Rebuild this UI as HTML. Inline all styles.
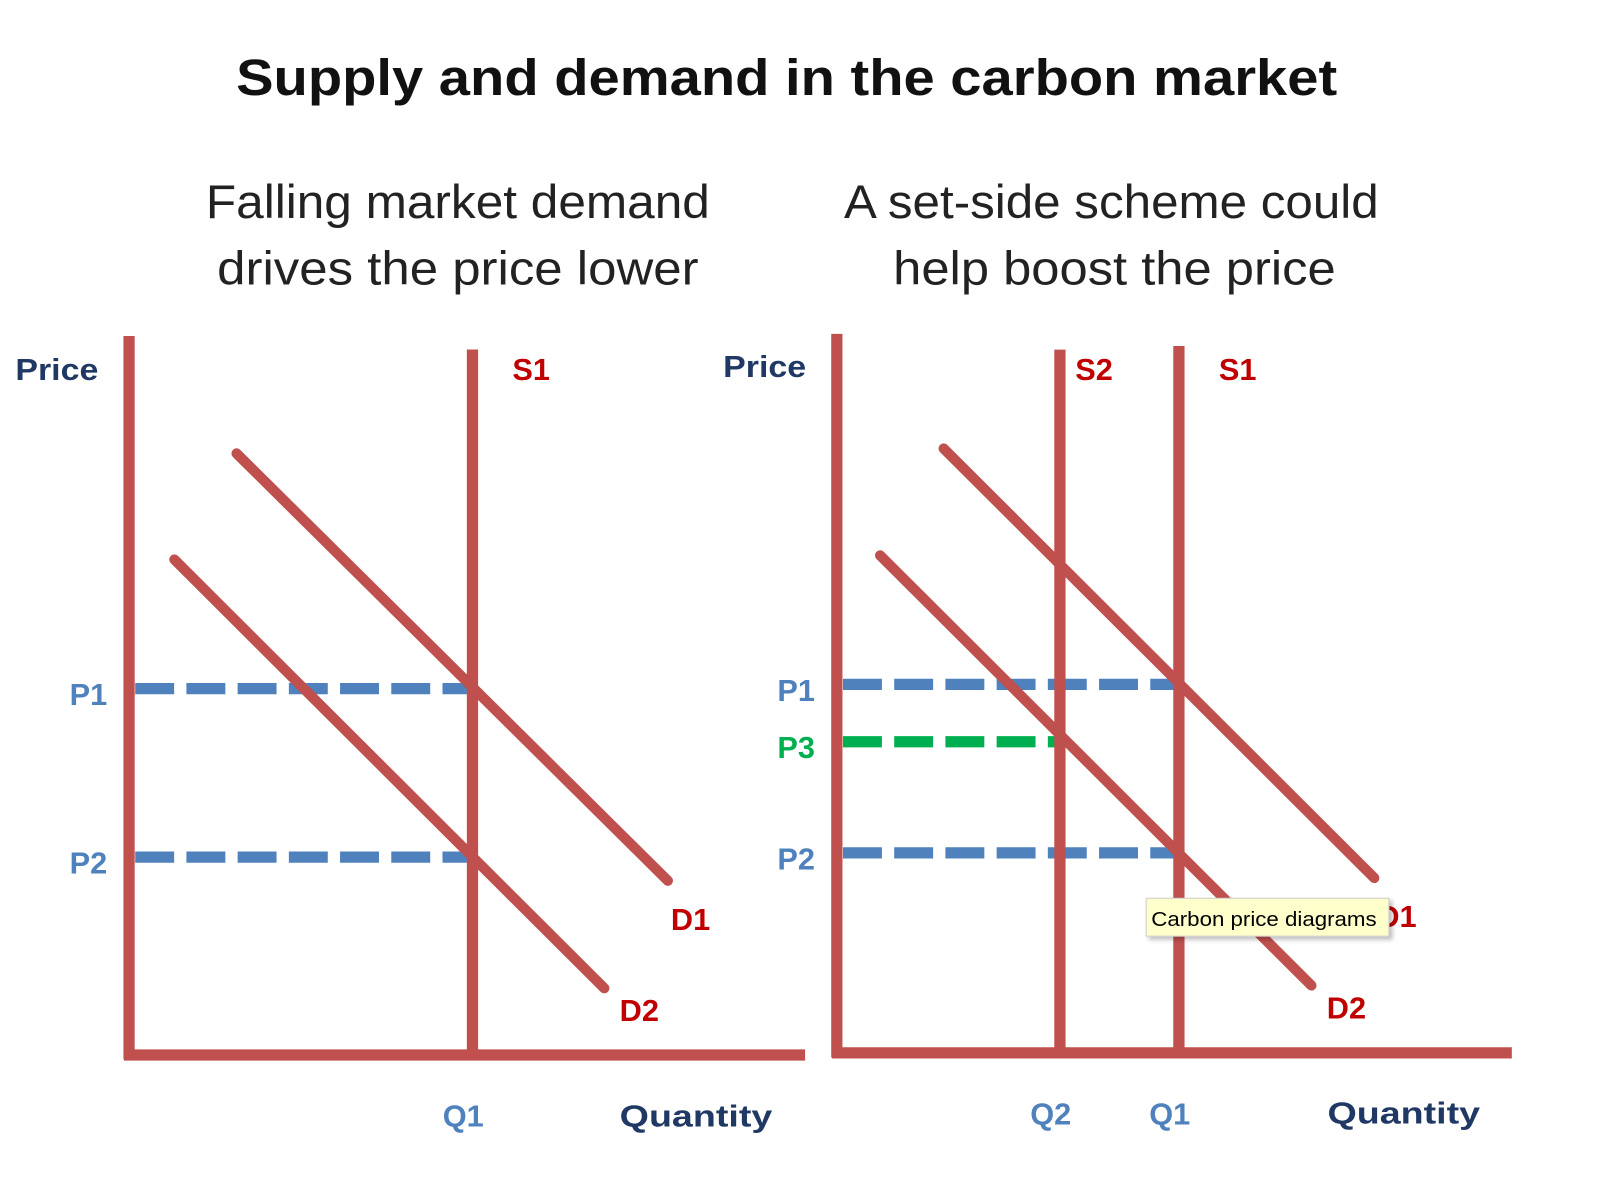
<!DOCTYPE html>
<html><head><meta charset="utf-8"><style>
html,body{margin:0;padding:0;background:#fff;width:1603px;height:1183px;overflow:hidden}
svg{display:block}
text{font-family:"Liberation Sans",sans-serif}
</style></head><body>
<svg id="chart" width="1603" height="1183" viewBox="0 0 1565 1155" preserveAspectRatio="none">
<defs><filter id="sh" x="-10%" y="-10%" width="130%" height="130%"><feDropShadow dx="3" dy="3" stdDeviation="2" flood-color="#000" flood-opacity="0.25"/></filter></defs>
<text x="768" y="93" text-anchor="middle" font-size="50" font-weight="bold" fill="#111" textLength="1075" lengthAdjust="spacingAndGlyphs">Supply and demand in the carbon market</text>
<text x="447" y="213" text-anchor="middle" font-size="46" fill="#222" textLength="492" lengthAdjust="spacingAndGlyphs">Falling market demand</text>
<text x="447" y="278" text-anchor="middle" font-size="46" fill="#222" textLength="470" lengthAdjust="spacingAndGlyphs">drives the price lower</text>
<text x="1085" y="213" text-anchor="middle" font-size="46" fill="#222" textLength="522" lengthAdjust="spacingAndGlyphs">A set-side scheme could</text>
<text x="1088" y="278" text-anchor="middle" font-size="46" fill="#222" textLength="432" lengthAdjust="spacingAndGlyphs">help boost the price</text>
<g id="marks"></g>
<g>
<rect x="1119" y="877" width="237" height="37" fill="#ffffcc" stroke="#ccc" filter="url(#sh)"/>
<text x="1124" y="904" font-size="20" fill="#000" textLength="220" lengthAdjust="spacingAndGlyphs">Carbon price diagrams</text>
</g>
</svg>
<script>
// data (price/quantity units)
const panels = ['left','right'];
const origins = [[126,1030],[817,1028]];
const supplyNames = [['S1'],['S2','S1']];
const supplyQ = [[5.08],[3.30,5.06]];
const supplyTop = [[9.84],[9.81,9.86]];
const demandNames = [['D1','D2'],['D1','D2']];
const demandStartQ = [[1.59,0.67],[1.58,0.64]];
const demandStartP = [[8.39,6.91],[8.43,6.94]];
const demandEndQ = [[7.97,7.03],[7.95,7.02]];
const demandEndP = [[2.43,0.93],[2.44,0.94]];
const priceNames = [['P1','P2'],['P1','P3','P2']];
const priceValues = [[5.11,2.76],[5.14,4.34,2.79]];
const priceToQ = [[5.08,5.08],[5.06,3.30,5.06]];
const qtyNames = [['Q1'],['Q2','Q1']];
const qtyValues = [[5.08],[3.30,5.06]];

const NS='http://www.w3.org/2000/svg';
const g=document.getElementById('marks');
const RED='#c0504d';
function X(p,q){return origins[p][0]+q*66;}
function Y(p,v){return origins[p][1]-v*70;}
function el(tag,at){const e=document.createElementNS(NS,tag);for(const k in at)e.setAttribute(k,at[k]);g.appendChild(e);return e;}
function txt(s,x,y,fill,size,anchor){const t=el('text',{x:x,y:y,fill:fill,'font-size':size,'font-weight':'bold','text-anchor':anchor||'start'});t.textContent=s;return t;}

panels.forEach((name,p)=>{
  const ox=origins[p][0], oy=origins[p][1];
  const ya=el('line',{x1:ox,y1:oy-702,x2:ox,y2:oy+4,stroke:RED,'stroke-width':11});
  
  
  const xa=el('line',{x1:ox-5,y1:oy,x2:ox+(p===0?660:659),y2:oy,stroke:RED,'stroke-width':11});
  
  
  const pl=txt('Price',p===0?15:706,p===0?371:368,'#1f3864',30);
  pl.setAttribute('textLength','81');
  pl.setAttribute('lengthAdjust','spacingAndGlyphs');
  
  
  const ql=txt('Quantity',p===0?605:1296,p===0?1100:1097,'#1f3864',30);
  ql.setAttribute('textLength','149');
  ql.setAttribute('lengthAdjust','spacingAndGlyphs');
  
  
  priceValues[p].forEach((v,i)=>{
    const col=priceNames[p][i]==='P3'?'#00b050':'#4f81bd';
    const l=el('line',{x1:ox+6,y1:Y(p,v),x2:X(p,priceToQ[p][i]),y2:Y(p,v),stroke:col,'stroke-width':11,'stroke-dasharray':'38 12'});
    
    
    const t=txt(priceNames[p][i],ox-58,Y(p,v)+16,col,30);
    
    
  });
  supplyQ[p].forEach((q,i)=>{
    const l=el('line',{x1:X(p,q),y1:Y(p,supplyTop[p][i]),x2:X(p,q),y2:oy,stroke:RED,'stroke-width':11});
    
    
    const off=(p===1&&i===0)?15:39;
    const t=txt(supplyNames[p][i],X(p,q)+off,371,'#c00000',30);
    
    
  });
  demandNames[p].forEach((n,i)=>{
    const x2=X(p,demandEndQ[p][i]), y2=Y(p,demandEndP[p][i]);
    const l=el('line',{x1:X(p,demandStartQ[p][i]),y1:Y(p,demandStartP[p][i]),x2:x2,y2:y2,stroke:RED,'stroke-width':10,'stroke-linecap':'round'});
    
    
    const t=txt(n,x2+(i===0?3:15),y2+(i===0?48:32),'#c00000',30);
    
    
  });
  qtyValues[p].forEach((q,i)=>{
    const t=txt(qtyNames[p][i],X(p,q)-9,oy+70,'#4f81bd',30,'middle');
    
    
  });
});
</script>
</body></html>
